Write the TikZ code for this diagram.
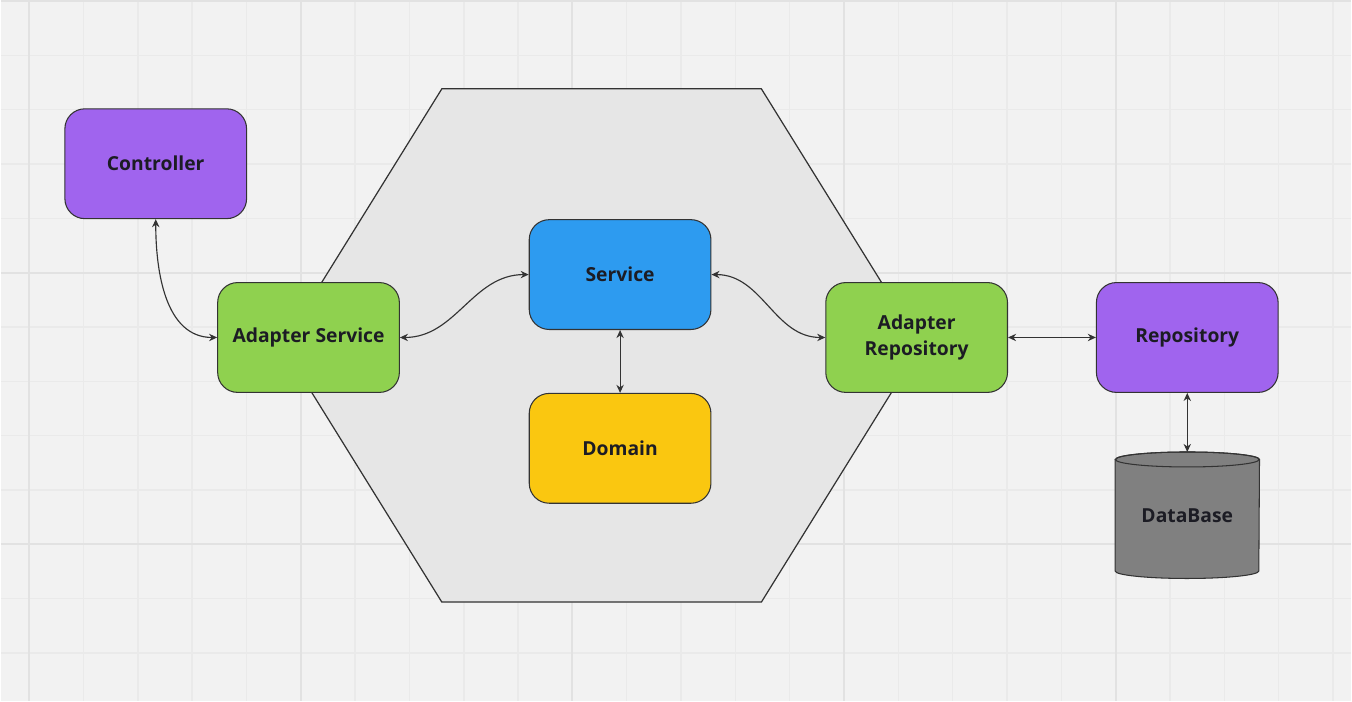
\documentclass[tikz,border=0pt]{standalone}
\usepackage{fontspec}
\setmainfont{Open Sans}
\usetikzlibrary{calc}
\usetikzlibrary{arrows.meta}
\tikzset{>={Stealth[length=4.6pt,width=4.2pt]}}
\definecolor{bgcol}{HTML}{F2F2F2}
\definecolor{gridcol}{HTML}{EAEAEA}
\definecolor{gridmaj}{HTML}{E2E2E2}
\definecolor{hexcol}{HTML}{E6E6E6}
\definecolor{linecol}{HTML}{333333}
\definecolor{txtcol}{HTML}{1C1C24}
\definecolor{mypurple}{HTML}{A064EE}
\definecolor{mygreen}{HTML}{8FD14F}
\definecolor{myblue}{HTML}{2D9BF0}
\definecolor{myyellow}{HTML}{FAC710}
\definecolor{mygray}{HTML}{808080}
\tikzstyle{grid line}=[gridcol,line width=0.8]
\tikzstyle{grid line major}=[gridmaj,line width=1.1]
\tikzstyle{box}=[draw=linecol,line width=0.6,rounded corners=0.4cm,
  minimum width=3.64cm,minimum height=2.2cm,align=center,text=txtcol,
  font=\bfseries\fontsize{11}{15.3}\selectfont]
\tikzstyle{link}=[<->,linecol,line width=0.65]

\begin{document}
\begin{tikzpicture}[x=0.02cm,y=-0.02cm]
  
  \def\W{1352}
  \def\H{701}
  
  % BACKGROUND AND GRID
  \fill[bgcol] (0,0) rectangle (\W,\H);
  \foreach \i [evaluate={\x=28.3+\i*54.4;}] in {0,...,24}{
    \draw[grid line] (\x,0) -- (\x,\H);
  }
  \foreach \j [evaluate={\y=\j*54.4;}] in {0,...,12}{
    \draw[grid line] (0,\y) -- (\W,\y);
  }
  \foreach \i [evaluate={\x=28.3+\i*272;}] in {0,...,4}{
    \draw[grid line major] (\x,0) -- (\x,\H);
  }
  \foreach \y in {0,272,544}{
    \draw[grid line major] (0,\y) -- (\W,\y);
  }
  \useasboundingbox (0,0) rectangle (\W,\H);
  
  % HEXAGON
  \draw[linecol,line width=0.7,fill=hexcol]
    (441.5,88) -- (761.5,88) -- (921,345) -- (761.5,602) -- (441.5,602) -- (282,345) -- cycle;
  
  % NODES
  \node[box,fill=mypurple] (ctrl)   at (155,163) {Controller};
  \node[box,fill=mygreen]  (adsrv)  at (308,337) {Adapter Service};
  \node[box,fill=myblue]   (srv)    at (620,274) {Service};
  \node[box,fill=myyellow] (dom)    at (620,448) {Domain};
  \node[box,fill=mygreen]  (adrepo) at (917,337) {Adapter\\Repository};
  \node[box,fill=mypurple] (repo)   at (1188,337) {Repository};
  
  % DATABASE
  \node[minimum width=2.88cm,minimum height=2.52cm] (db) at (1188,515) {};
  \draw[linecol,line width=0.6,fill=mygray]
    ($(db.north west)+(0,7.5)$) -- ($(db.south west)+(0,-7.5)$)
    arc[start angle=180,end angle=0,x radius=72,y radius=7.5]
    -- ($(db.north east)+(0,7.5)$)
    arc[start angle=0,end angle=-180,x radius=72,y radius=7.5] -- cycle;
  \draw[linecol,line width=0.6] ($(db.north)+(0,7.5)$) ellipse[x radius=72,y radius=7.5];
  \node[text=txtcol,font=\bfseries\fontsize{11}{15.3}\selectfont] (dbtxt) at (db.center) {DataBase};
  
  % LINKS
  \draw[link] (ctrl.south) to[out=-90,in=180] (adsrv.west);
  \draw[link] (adsrv.east) to[out=0,in=180] (srv.west);
  \draw[link] (srv.east) to[out=0,in=180] (adrepo.west);
  \draw[link] (srv.south) -- (dom.north);
  \draw[link] (adrepo.east) -- (repo.west);
  \draw[link] (repo.south) -- (db.north);
  
\end{tikzpicture}
\end{document}
